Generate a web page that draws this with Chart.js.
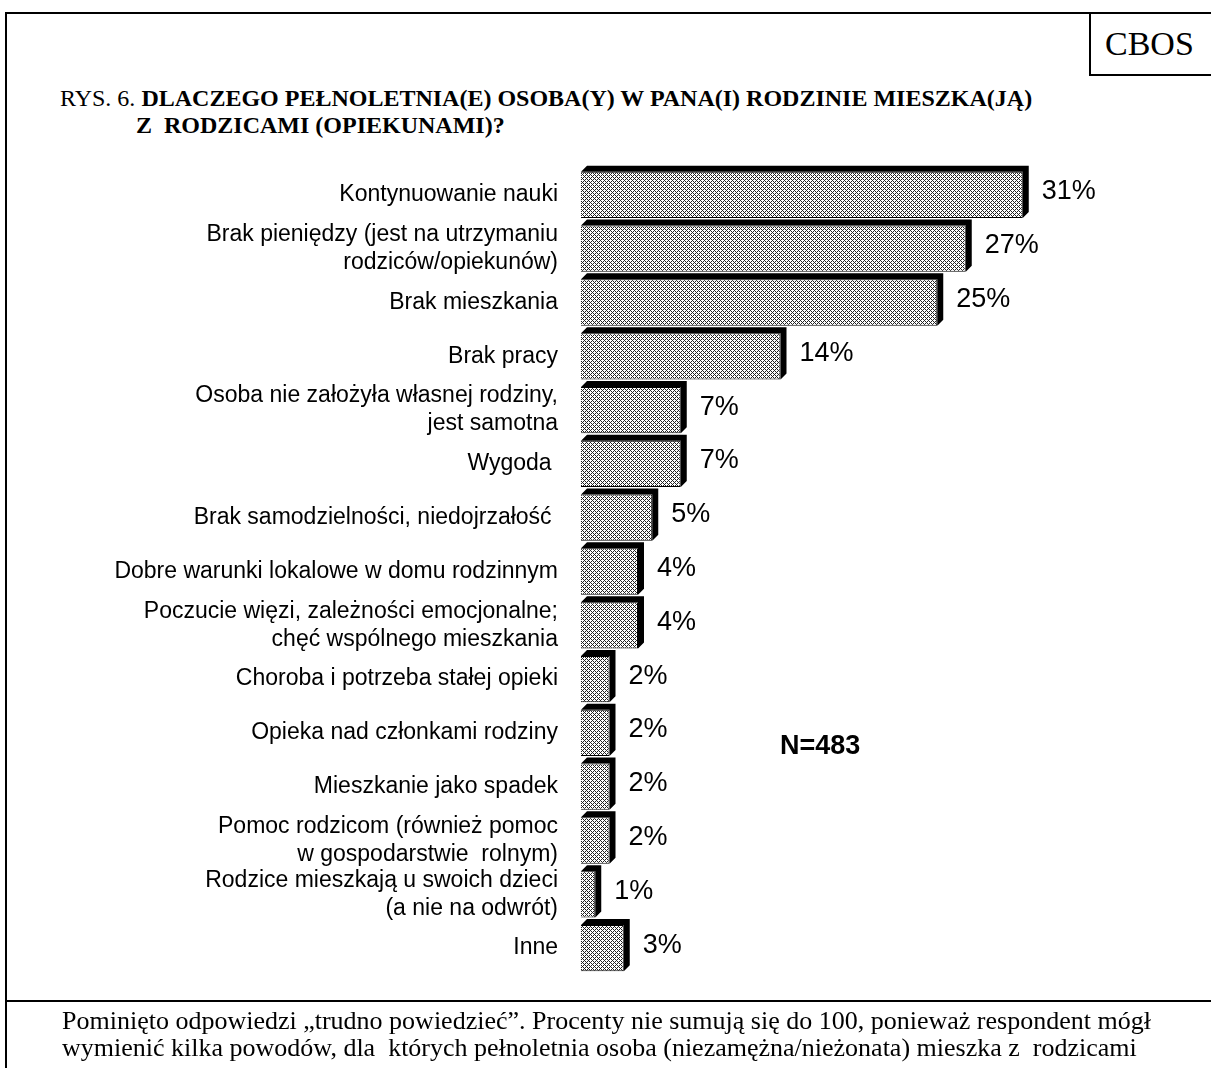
<!DOCTYPE html>
<html>
<head>
<meta charset="utf-8">
<script src="https://cdn.jsdelivr.net/npm/chart.js@4.4.1/dist/chart.umd.min.js"></script>
<style>
  body { margin: 0; width: 1211px; height: 1068px; overflow: hidden; background: #fff; position: relative; }
  #frame { position: absolute; left: 5px; top: 12px; width: 1300px; height: 1200px; border: 2px solid #000; }
  #sep { position: absolute; left: 5px; top: 1000px; width: 1300px; border-top: 2px solid #000; }
  #cbos { position: absolute; left: 1089px; top: 12px; width: 200px; height: 64px; border-left: 2px solid #000; border-bottom: 2px solid #000;
          font-family: "Liberation Serif", "Times New Roman", serif; font-size: 34px; line-height: 64px; padding-left: 14px; box-sizing: border-box; }
  #title { position: absolute; left: 60px; top: 85px; font-family: "Liberation Serif", "Times New Roman", serif; font-size: 24px; line-height: 27px; white-space: pre; }
  #title .l2 { display: block; margin-left: 76px; }
  #note { position: absolute; left: 62px; top: 1007px; font-family: "Liberation Serif", "Times New Roman", serif; font-size: 26px; line-height: 27px; white-space: pre; }
  #n { position: absolute; left: 780px; top: 730px; font-family: "Liberation Sans", Arial, sans-serif; font-size: 27px; font-weight: bold; }
  canvas { position: absolute; left: 0; top: 0; }
</style>
</head>
<body>
<div id="frame"></div>
<div id="sep"></div>
<div id="cbos">CBOS</div>
<div id="title">RYS. 6. <b>DLACZEGO PEŁNOLETNIA(E) OSOBA(Y) W PANA(I) RODZINIE MIESZKA(JĄ)</b><b class="l2">Z  RODZICAMI (OPIEKUNAMI)?</b></div>
<canvas id="reasonsChart" width="1211" height="1068"></canvas>
<div id="n">N=483</div>
<div id="note">Pominięto odpowiedzi „trudno powiedzieć”. Procenty nie sumują się do 100, ponieważ respondent mógł
wymienić kilka powodów, dla  których pełnoletnia osoba (niezamężna/nieżonata) mieszka z  rodzicami</div>

<script>
// Categories (multi-line labels as arrays)
const reasons = [
  'Kontynuowanie nauki',
  ['Brak pieniędzy (jest na utrzymaniu', 'rodziców/opiekunów)'],
  'Brak mieszkania',
  'Brak pracy',
  ['Osoba nie założyła własnej rodziny,', 'jest samotna'],
  'Wygoda ',
  'Brak samodzielności, niedojrzałość ',
  'Dobre warunki lokalowe w domu rodzinnym',
  ['Poczucie więzi, zależności emocjonalne;', 'chęć wspólnego mieszkania'],
  'Choroba i potrzeba stałej opieki',
  'Opieka nad członkami rodziny',
  'Mieszkanie jako spadek',
  ['Pomoc rodzicom (również pomoc', 'w gospodarstwie  rolnym)'],
  ['Rodzice mieszkają u swoich dzieci', '(a nie na odwrót)'],
  'Inne'
];

// Percent of answers
const percents = [31, 27, 25, 14, 7, 7, 5, 4, 4, 2, 2, 2, 2, 1, 3];

// Dotted fill like the old print pattern
function makePattern() {
  const tile = document.createElement('canvas');
  tile.width = 4;
  tile.height = 4;
  const t = tile.getContext('2d');
  t.fillStyle = '#fff';
  t.fillRect(0, 0, 4, 4);
  t.fillStyle = '#222';
  [[0, 0], [1, 1], [3, 1], [2, 2], [1, 3], [3, 3]].forEach(p => t.fillRect(p[0], p[1], 1, 1));
  return document.getElementById('reasonsChart').getContext('2d').createPattern(tile, 'repeat');
}

const depth = 6;

// Black block behind each bar (3D look)
const shadowPlugin = {
  id: 'shadow',
  beforeDatasetsDraw(chart) {
    const ctx = chart.ctx;
    chart.getDatasetMeta(0).data.forEach(bar => {
      const left = bar.base, right = bar.x;
      const top = bar.y - bar.height / 2, bottom = bar.y + bar.height / 2;
      ctx.save();
      ctx.fillStyle = '#000';
      ctx.beginPath();
      ctx.moveTo(left, top);
      ctx.lineTo(left + depth, top - depth);
      ctx.lineTo(right + depth, top - depth);
      ctx.lineTo(right + depth, bottom - depth);
      ctx.lineTo(right, bottom);
      ctx.lineTo(right, top);
      ctx.closePath();
      ctx.fill();
      ctx.restore();
    });
  }
};

// Value labels to the right of bars
const valueLabels = {
  id: 'valueLabels',
  afterDatasetsDraw(chart) {
    const ctx = chart.ctx;
    ctx.save();
    ctx.font = '27px "Liberation Sans", Arial, sans-serif';
    ctx.fillStyle = '#000';
    ctx.textBaseline = 'middle';
    chart.getDatasetMeta(0).data.forEach((bar, i) => {
      ctx.fillText(percents[i] + '%', bar.x + depth + 13, bar.y - 3);
    });
    ctx.restore();
  }
};

new Chart(document.getElementById('reasonsChart'), {
  type: 'bar',
  data: {
    labels: reasons,
    datasets: [{
      data: percents,
      backgroundColor: makePattern(),
      borderColor: '#000',
      borderWidth: 1,
      barPercentage: 0.86,
      categoryPercentage: 1
    }]
  },
  options: {
    indexAxis: 'y',
    responsive: false,
    animation: false,
    layout: { padding: { top: 168, bottom: 93, left: 0, right: 60 } },
    plugins: { legend: { display: false }, tooltip: { enabled: false } },
    scales: {
      x: { display: false, min: 0, max: 40 },
      y: {
        grid: { display: false, drawTicks: false },
        border: { display: false },
        afterFit(scale) { scale.width = 581; },
        ticks: {
          autoSkip: false,
          color: '#000',
          padding: 23,
          font: { family: '"Liberation Sans", Arial, sans-serif', size: 23, lineHeight: 1.22 }
        }
      }
    }
  },
  plugins: [shadowPlugin, valueLabels]
});
</script>
</body>
</html>
